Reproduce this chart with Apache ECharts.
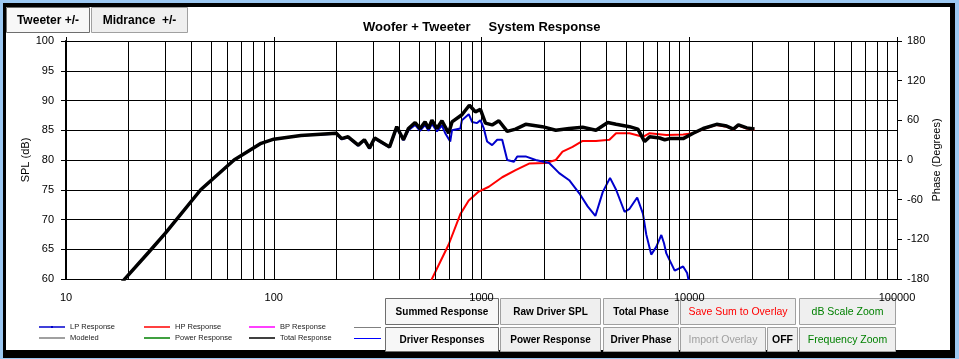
<!DOCTYPE html>
<html><head><meta charset="utf-8">
<script src="https://cdn.jsdelivr.net/npm/echarts@6/dist/echarts.min.js"></script>
<style>html,body{margin:0;padding:0;background:#9cc8f2;overflow:hidden}#c{width:959px;height:359px}</style>
</head><body><div id="c"></div>
<script>
// ---- data ----
const xTickLabels = [10, 100, 1000, 10000, 100000];
const minorGrid = [20,30,40,50,60,70,80,90,200,300,400,500,600,700,800,900,2000,3000,4000,5000,6000,7000,8000,9000,20000,30000,40000,50000,60000,70000,80000,90000];
const phaseTicks = [-180, -120, -60, 0, 60, 120, 180];

const totalFreq = [15,19.3,25,30.1,44.5,64.4,86.9,100,135,200,212,228,255,273,289,306,337,361,391,421,445,479,506,535,556,577,610,645,695,721,805,874,934,988,1045,1125,1212,1330,1459,1631,1963,2278,2644,3067,3556,4052,4445,5160,5658,6097,6450,7207,7620,8054,9343,10447,11670,13540,15140,16310,17240,18920,20600];
const totalSpl  = [55.6,60.1,64.5,67.7,75.0,80.0,82.8,83.5,84.1,84.5,83.6,83.9,82.5,83.4,82.0,83.7,82.8,82.2,85.6,83.4,85.3,86.3,85.3,86.4,85.3,86.7,85.3,86.6,84.5,86.4,87.6,89.2,88.1,88.5,86.2,85.9,86.6,84.8,85.2,86.0,85.6,85.0,85.3,85.5,85.0,86.3,86.0,85.6,85.2,83.1,83.9,83.7,83.4,83.6,83.6,84.5,85.3,86.0,85.7,85.2,85.9,85.4,85.2];

const lpFreq = [15,19.3,30.1,44.5,64.4,86.9,100,135,200,212,228,255,273,289,306,337,361,391,421,445,479,506,535,556,577,610,645,669,707,721,791,805,868,901,952,988,1026,1064,1125,1190,1258,1330,1433,1486,1631,1823,2117,2366,2644,2956,3243,3533,3833,4156,4445,4881,5160,5616,5984,6209,6561,6938,7338,7560,7757,8511,9343,9767,10100];
const lpSpl  = [55.6,60.1,67.7,75.0,80.0,82.8,83.5,84.1,84.4,83.5,83.8,82.4,83.3,81.9,83.6,82.7,82.1,85.4,83.3,85.0,85.9,84.9,85.9,84.9,86.1,84.8,85.8,84.5,83.1,85.0,85.3,86.7,87.7,86.4,86.2,86.7,85.3,83.1,82.5,83.4,83.4,80.0,79.7,80.6,80.6,80.0,79.5,77.8,76.6,74.4,72.2,70.6,74.6,77.0,75.0,71.3,71.8,73.7,71.0,67.5,64.1,65.4,67.4,66.0,64.3,61.4,62.1,61.0,58.5];

const hpFreq = [540,577,695,791,868,970,1085,1258,1459,1694,2038,2278,2455,2744,3067,3556,4128,4445,5160,5984,6450,7757,9343,10447,11670,13540,15140,16310,17240,18920,20600];
const hpSpl  = [57.9,60.0,65.8,70.9,73.2,74.7,75.5,77.1,78.3,79.4,79.5,80.0,81.4,82.2,83.2,83.2,83.4,84.5,84.5,83.9,84.5,84.2,84.3,84.5,85.2,85.9,85.6,85.1,85.8,85.3,85.1];

const legendRow1 = ['LP Response', 'HP Response', 'BP Response'];
const legendRow2 = ['Modeled', 'Power Response', 'Total Response'];
const topButtons = ['Tweeter +/-', 'Midrance  +/-'];
const buttonRow1 = ['Summed Response', 'Raw Driver SPL', 'Total Phase', 'Save Sum to Overlay', 'dB Scale Zoom'];
const buttonRow2 = ['Driver Responses', 'Power Response', 'Driver Phase', 'Import Overlay', 'OFF', 'Frequency Zoom'];

// ---- build ----
const pairs = (f, v) => f.map((x, i) => [x, v[i]]);
const FONT = 'Liberation Sans, Arial, sans-serif';

function button(x0, x1, y0, y1, label, opt) {
  opt = opt || {};
  return {
    type: 'group', z: 20,
    children: [
      { type: 'rect', shape: { x: x0 + 0.5, y: y0 + 0.5, width: x1 - x0, height: y1 - y0 },
        style: { fill: opt.pressed ? '#f7f7f7' : '#efefef', stroke: opt.pressed ? '#6e6e6e' : '#a0a0a0', lineWidth: 1 } },
      { type: 'text', style: { text: label, x: (x0 + x1) / 2 + 0.5, y: (y0 + y1) / 2 + 1,
        align: 'center', verticalAlign: 'middle', fill: opt.color || '#000',
        font: (opt.weight || 'bold') + ' ' + (opt.size || 10) + 'px ' + FONT } }
    ]
  };
}

const row1Layout = [[385,498,{pressed:true}],[500,600,{}],[603,678,{}],[680,795,{color:'#ff0000',weight:'normal',size:10.5}],[799,895,{color:'#008000',weight:'normal',size:10.5}]];
const row2Layout = [[385,498,{pressed:true}],[500,600,{}],[603,678,{}],[680,765,{color:'#a0a0a0',weight:'normal',size:10.5}],[767,797,{weight:'bold',size:10.5}],[799,895,{color:'#008000',weight:'normal',size:10.5}]];
const topLayout = [[6,89,{pressed:true,size:12}],[91,187,{size:12}]];

const graphics = [
  { type: 'rect', z: -2, silent: true, shape: { x: 3, y: 3, width: 952, height: 355 }, style: { fill: '#000' } },
  { type: 'rect', z: -1, silent: true, shape: { x: 6, y: 7, width: 944, height: 343 }, style: { fill: '#fff' } },
  { type: 'line', z: 5, shape: { x1: 354, y1: 327.5, x2: 381, y2: 327.5 }, style: { stroke: '#808080', lineWidth: 1 } },
  { type: 'line', z: 5, shape: { x1: 354, y1: 338.5, x2: 381, y2: 338.5 }, style: { stroke: '#0000ff', lineWidth: 1 } },
  { type: 'rect', z: 5, shape: { x: 51, y: 326, width: 2, height: 2 }, style: { fill: '#0000cc' } }
];
topButtons.forEach((t, i) => graphics.push(button(topLayout[i][0], topLayout[i][1], 7, 32, t, topLayout[i][2])));
buttonRow1.forEach((t, i) => graphics.push(button(row1Layout[i][0], row1Layout[i][1], 298, 324, t, row1Layout[i][2])));
buttonRow2.forEach((t, i) => graphics.push(button(row2Layout[i][0], row2Layout[i][1], 327, 351, t, row2Layout[i][2])));

const legendBase = { orient: 'horizontal', padding: 0, itemWidth: 26, itemHeight: 1.5, icon: 'rect', selectedMode: false,
  textStyle: { fontSize: 7.5, color: '#222', fontFamily: FONT } };
const legLeft = [39, 144, 249];
const legends = [];
legendRow1.forEach((n, i) => legends.push(Object.assign({}, legendBase, { data: [n], left: legLeft[i], top: 323 })));
legendRow2.forEach((n, i) => legends.push(Object.assign({}, legendBase, { data: [n], left: legLeft[i], top: 334 })));

const axisBlack = { color: '#000', width: 1 };
const option = {
  animation: false,
  backgroundColor: '#9cc8f2',
  title: { text: 'Woofer + Tweeter     System Response', left: 363, top: 21, padding: 0,
    textStyle: { fontSize: 13, fontWeight: 'bold', color: '#000', fontFamily: FONT } },
  legend: legends,
  graphic: graphics,
  grid: { left: 66, right: 62, top: 41, bottom: 80, containLabel: false },
  xAxis: [
    { type: 'log', logBase: 10, min: 10, max: 100000, position: 'bottom',
      axisLine: { show: true, lineStyle: axisBlack }, axisTick: { show: false },
      axisLabel: { fontSize: 11, color: '#000', margin: 13, fontFamily: FONT,
        formatter: v => (xTickLabels.indexOf(Math.round(v)) >= 0 ? String(Math.round(v)) : '') },
      splitLine: { show: true, lineStyle: axisBlack } },
    { type: 'log', logBase: 10, min: 10, max: 100000, position: 'top',
      axisLine: { show: true, lineStyle: axisBlack },
      axisTick: { show: true, inside: false, length: 4, lineStyle: axisBlack },
      axisLabel: { show: false }, splitLine: { show: false } }
  ],
  yAxis: [
    { type: 'value', min: 60, max: 100, interval: 5, position: 'left',
      axisLine: { show: true, lineStyle: { color: '#000', width: 2 } },
      axisTick: { show: true, length: 5, lineStyle: axisBlack },
      axisLabel: { fontSize: 11, color: '#000', margin: 12, fontFamily: FONT },
      splitLine: { show: true, lineStyle: axisBlack },
      name: 'SPL (dB)', nameLocation: 'middle', nameGap: 35, nameRotate: 90, nameMoveOverlap: false,
      nameTextStyle: { fontSize: 11, color: '#000', fontFamily: FONT } },
    { type: 'value', min: phaseTicks[0], max: phaseTicks[phaseTicks.length - 1], interval: 60, position: 'right',
      axisLine: { show: true, lineStyle: axisBlack },
      axisTick: { show: true, length: 5, lineStyle: axisBlack },
      axisLabel: { fontSize: 11, color: '#000', margin: 10, fontFamily: FONT },
      splitLine: { show: false },
      name: 'Phase (Degrees)', nameLocation: 'middle', nameGap: 34, nameRotate: 90, nameMoveOverlap: false,
      nameTextStyle: { fontSize: 11, color: '#000', fontFamily: FONT } }
  ],
  series: [
    { name: 'gridlines', type: 'line', data: [], z: 1, silent: true,
      markLine: { silent: true, symbol: ['none', 'none'], label: { show: false }, animation: false,
        lineStyle: { color: '#000', width: 1, type: 'solid' },
        data: minorGrid.map(v => ({ xAxis: v })) } },
    { name: 'HP Response', type: 'line', data: pairs(hpFreq, hpSpl), symbol: 'none', z: 3,
      itemStyle: { color: '#ff0000' }, lineStyle: { color: '#ff0000', width: 2 } },
    { name: 'LP Response', type: 'line', data: pairs(lpFreq, lpSpl), symbol: 'none', z: 4,
      itemStyle: { color: '#0000cc' }, lineStyle: { color: '#0000cc', width: 2 } },
    { name: 'BP Response', type: 'line', data: [], symbol: 'none',
      itemStyle: { color: '#ff00ff' }, lineStyle: { color: '#ff00ff', width: 1 } },
    { name: 'Modeled', type: 'line', data: [], symbol: 'none',
      itemStyle: { color: '#808080' }, lineStyle: { color: '#808080', width: 1 } },
    { name: 'Power Response', type: 'line', data: [], symbol: 'none',
      itemStyle: { color: '#008000' }, lineStyle: { color: '#008000', width: 1 } },
    { name: 'Total Response', type: 'line', data: pairs(totalFreq, totalSpl), symbol: 'none', z: 5,
      itemStyle: { color: '#000' }, lineStyle: { color: '#000', width: 3.5 } }
  ]
};
const chart = echarts.init(document.getElementById('c'), null, { renderer: 'canvas' });
chart.setOption(option);
</script>
</body></html>
